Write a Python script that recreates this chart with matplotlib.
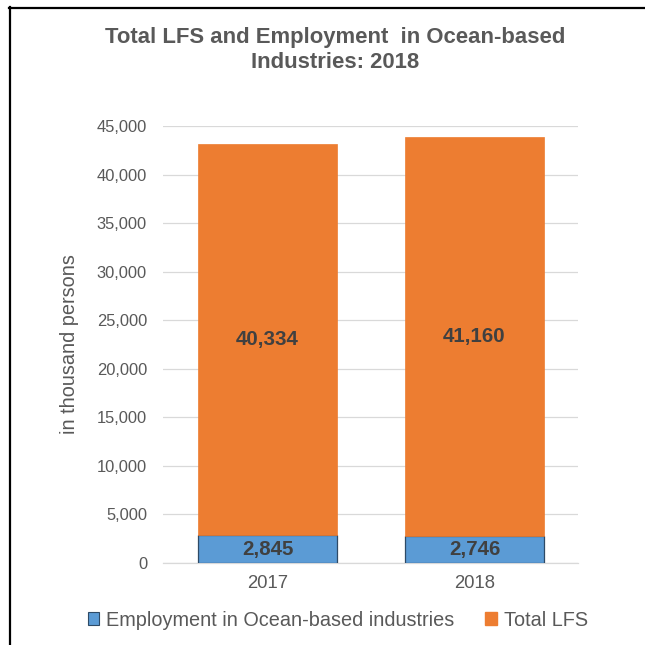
import matplotlib
matplotlib.use("Agg")
import matplotlib.pyplot as plt
from matplotlib.lines import Line2D
from matplotlib.patches import Patch

plt.rcParams['font.family'] = ['Liberation Sans', 'DejaVu Sans']

years = ["2017", "2018"]
ocean_employment = [2845, 2746]
total_lfs = [40334, 41160]
yticks = [0, 5000, 10000, 15000, 20000, 25000, 30000, 35000, 40000, 45000]

blue = "#5B9BD5"
orange = "#ED7D31"
gray_text = "#595959"
grid_col = "#D9D9D9"

fig = plt.figure(figsize=(6.45, 6.45), dpi=100)
ax = fig.add_axes([163/645, 1-563/645, (578-163)/645, (563-126)/645])

x = list(range(len(years)))
b1 = ax.bar(x, ocean_employment, width=0.67, color=blue, edgecolor="#2E4A66", linewidth=0.9, zorder=3)
b2 = ax.bar(x, total_lfs, width=0.67, bottom=ocean_employment, color=orange, edgecolor=orange, linewidth=0.5, zorder=3)

for rect, v in zip(b1, ocean_employment):
    ax.text(rect.get_x()+rect.get_width()/2, rect.get_y()+rect.get_height()/2, f"{v:,}",
            ha="center", va="center", fontsize=14.8, fontweight="bold", color="#404040", zorder=4)
for rect, v in zip(b2, total_lfs):
    ax.text(rect.get_x()+rect.get_width()/2, rect.get_y()+rect.get_height()/2, f"{v:,}",
            ha="center", va="center", fontsize=14.8, fontweight="bold", color="#404040", zorder=4)

ax.set_xlim(-0.505, 1.5)
ax.set_ylim(0, 45000)
ax.set_yticks(yticks)
ax.set_yticklabels([f"{t:,}" for t in yticks])
ax.set_xticks(x)
ax.set_xticklabels(years)
ax.tick_params(axis="both", length=0, colors=gray_text)
ax.tick_params(axis="y", pad=11.5, labelsize=11.9)
ax.tick_params(axis="x", pad=8.5, labelsize=13.3)
ax.yaxis.grid(True, color=grid_col, linewidth=0.9, zorder=0)
ax.set_axisbelow(True)
for s in ["top", "right", "left"]:
    ax.spines[s].set_visible(False)
ax.spines["bottom"].set_color(grid_col)
ax.spines["bottom"].set_linewidth(0.9)
ax.set_ylabel("in thousand persons", fontsize=14.3, color=gray_text)
ax.yaxis.set_label_coords(-(163-79)/415, 0.5)

fig.text(335/645, 1-50/645, "Total LFS and Employment  in Ocean-based\nIndustries: 2018",
         ha="center", va="center", fontsize=15.9, fontweight="bold", color=gray_text, linespacing=1.27)

handles = [Patch(facecolor=blue, edgecolor="#2E4A66", linewidth=0.8),
           Patch(facecolor=orange, edgecolor=orange)]
fig.legend(handles, ["Employment in Ocean-based industries", "Total LFS"],
           loc="center", bbox_to_anchor=(338/645, 1-620/645), ncol=2, frameon=False,
           fontsize=14.3, handlelength=0.6, handleheight=0.6, handletextpad=0.35,
           columnspacing=1.55, labelcolor=gray_text)

fig.add_artist(Line2D([9/645, 1], [1-7.5/645, 1-7.5/645], color="black", linewidth=1.6, transform=fig.transFigure))
fig.add_artist(Line2D([9.5/645, 9.5/645], [0, 1-7/645], color="black", linewidth=1.6, transform=fig.transFigure))

fig.savefig("out.png", dpi=100)
